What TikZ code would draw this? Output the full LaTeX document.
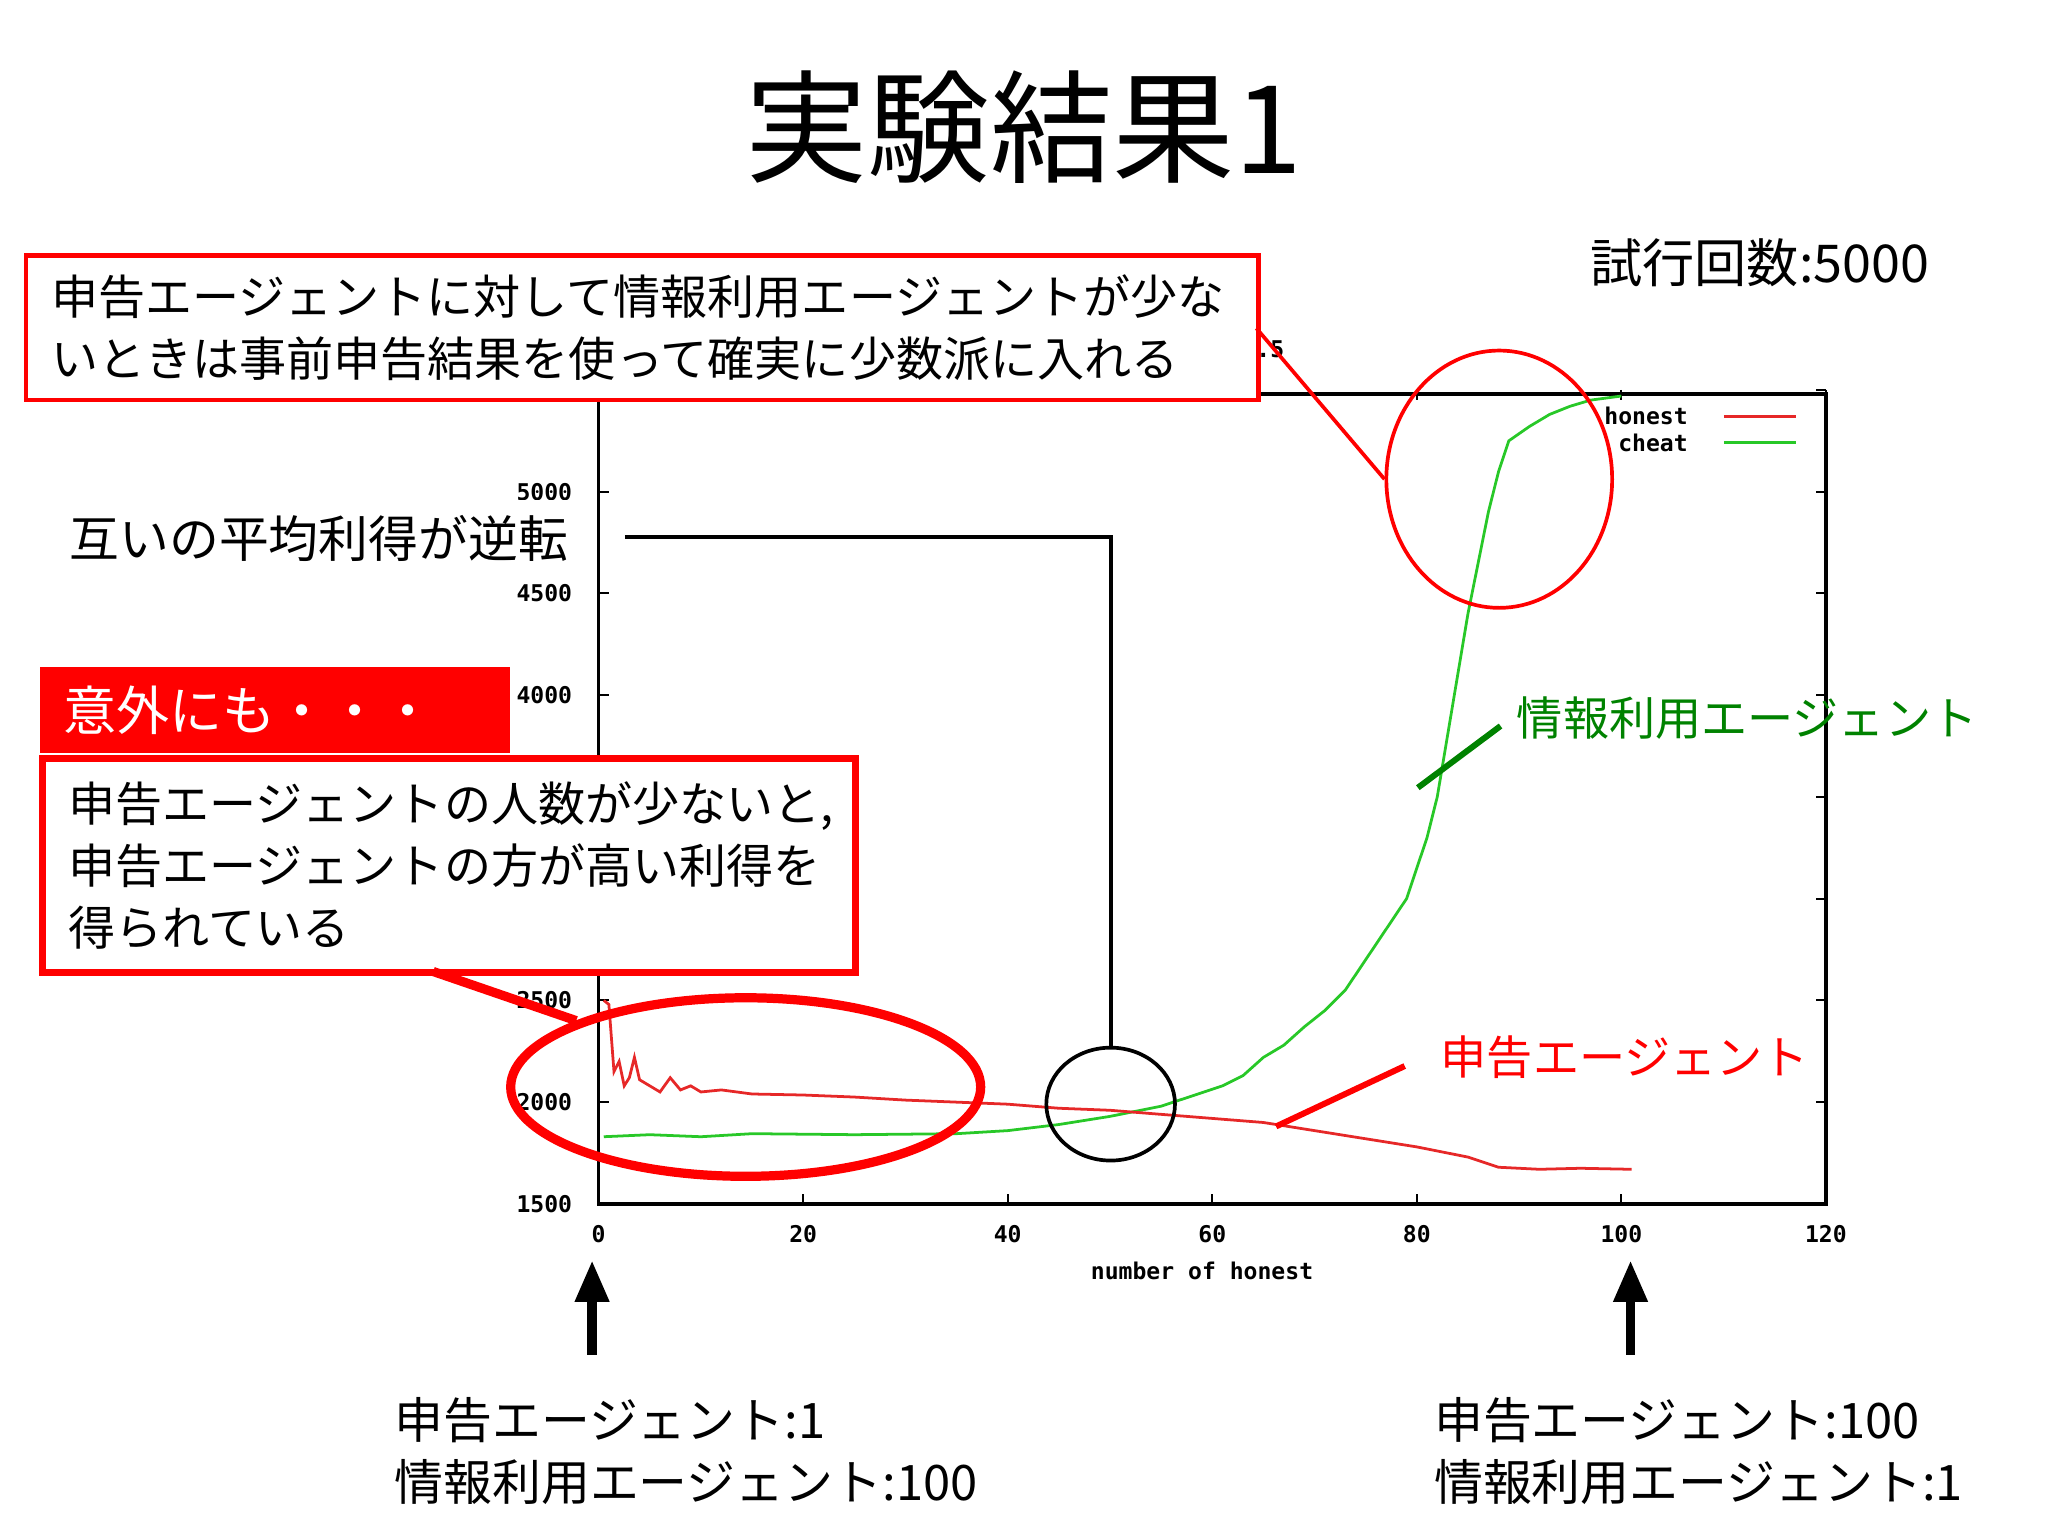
\documentclass[tikz,border=0pt]{standalone}
\usepackage{fontspec}
\usetikzlibrary{shapes.geometric,arrows.meta}
\setmainfont{Noto Sans CJK JP}
\newfontfamily\gp{DejaVu Sans Mono}
\definecolor{gred}{RGB}{230,40,40}
\definecolor{ggreen}{RGB}{40,200,40}
\definecolor{dgreen}{RGB}{0,130,0}
\tikzset{
 tick/.style={font=\gp\bfseries\fontsize{5}{6}\selectfont},
 body/.style={font=\fontsize{10.2}{13.5}\selectfont,align=left},
 redbox/.style={draw=red,line width=1.2pt,fill=white},
}
\begin{document}
\begin{tikzpicture}[x=0.1mm,y=-0.1mm]
\useasboundingbox (0,0) rectangle (1560,1170);
\node (title) at (780,97) {\fontsize{26.5}{30}\selectfont 実験結果1};
\node[anchor=east] (trials) at (1482,200) {\fontsize{11.3}{14}\selectfont 試行回数:5000};
% plot frame
\draw[line width=0.8pt] (456,300) rectangle (1391,917);
\begin{scope}[shift={(456,917)},xscale=7.79,yscale=-0.155]
 \foreach \v in {0,20,...,120}{
   \draw (\v,0) -- (\v,50); \draw (\v,4000) -- (\v,3950);
   \node[tick] at (\v,-150) {\v};}
 \foreach \w in {0,500,...,4000}{
   \draw (0,\w) -- (1,\w); \draw (120,\w) -- (119,\w);
   \pgfmathtruncatemacro\lab{\w+1500}
   \node[tick,anchor=east] at (-1,\w) {\lab};}
 \node[tick] at (59,-330) {number of honest};
 \node[tick] at (65,4200) {0.5};
 % data
 \draw[ggreen,line width=0.6pt] (0.5,330) -- (5,340) -- (10,330) -- (15,345) -- (25,340) -- (35,345) -- (40,360) -- (45,390) -- (50,430) -- (55,480) -- (58,530) -- (61,580) -- (63,630) -- (65,720) -- (67,780) -- (69,870) -- (71,950) -- (73,1050) -- (75,1200) -- (77,1350) -- (79,1500) -- (81,1800) -- (82,2000) -- (83,2300) -- (84,2600) -- (85,2900) -- (86,3150) -- (87,3400) -- (88,3600) -- (89,3750) -- (91,3820) -- (93,3880) -- (95,3920) -- (97,3950) -- (100,3970);
 \draw[gred,line width=0.6pt] (0.5,1000) -- (1,980) -- (1.5,650) -- (2,700) -- (2.5,580) -- (3,620) -- (3.5,720) -- (4,610) -- (5,580) -- (6,550) -- (7,620) -- (8,560) -- (9,580) -- (10,550) -- (12,560) -- (15,540) -- (20,535) -- (25,525) -- (30,510) -- (35,500) -- (40,490) -- (45,470) -- (50,460) -- (55,440) -- (60,420) -- (65,400) -- (70,360) -- (75,320) -- (80,280) -- (85,230) -- (88,180) -- (92,170) -- (96,175) -- (101,170);
\end{scope}
% legend
\node[tick,anchor=east] (lh) at (1298,317) {honest};
\node[tick,anchor=east] (lc) at (1298,337) {cheat};
\draw[gred,line width=0.6pt] (1313,317) -- (1368,317);
\draw[ggreen,line width=0.6pt] (1313,337) -- (1368,337);
% top annotation
\node[redbox,line width=0.9pt,body,minimum width=93.9mm,minimum height=11mm,anchor=north west,inner xsep=4pt,text width=90mm] (tb) at (18,193) {申告エージェントに対して情報利用エージェントが少な\\いときは事前申告結果を使って確実に少数派に入れる};
\node[draw=red,line width=0.8pt,ellipse,minimum width=17.2mm,minimum height=19.6mm] (e1) at (1142,365) {};
\coordinate (t1) at (957,250);
\draw[red,line width=0.8pt] (t1) -- (e1.west);
% reversal
\node[fill=white,font=\fontsize{10.8}{13}\selectfont,anchor=east] (rev) at (445,410) {互いの平均利得が逆転};
\node[draw,line width=0.8pt,ellipse,minimum width=9.8mm,minimum height=8.6mm] (c1) at (846,841) {};
\coordinate (r1) at (476,409); \coordinate (r2) at (846,409);
\draw[line width=0.8pt] (r1) -- (r2) -- (c1.north);
% surprisingly
\node[fill=red,text=white,minimum width=26mm,minimum height=6.6mm,anchor=north west,font=\fontsize{11.5}{14}\selectfont,inner xsep=5pt,align=left] (sur) at (30,507) {意外にも・・・\hspace{4mm}};
\node[redbox,line width=1.5pt,body,minimum width=61.9mm,minimum height=16.3mm,anchor=north west,inner xsep=5pt,text width=58mm] (mb) at (30,575) {申告エージェントの人数が少ないと,\\申告エージェントの方が高い利得を\\得られている};
\node[draw=red,line width=2pt,ellipse,minimum width=35.8mm,minimum height=13.6mm] (e2) at (568,828) {};
\coordinate (m1) at (330,740);
\draw[red,line width=2pt] (m1) -- (e2.north west);
% labels
\node[anchor=west,text=dgreen,font=\fontsize{10}{12}\selectfont] (gl) at (1143,547) {情報利用エージェント};
\coordinate (g1) at (1143,553); \coordinate (g2) at (1080,600);
\draw[dgreen,line width=1.3pt] (g1) -- (g2);
\node[anchor=west,text=red,font=\fontsize{10}{12}\selectfont] (rl) at (1085,805) {申告エージェント};
\coordinate (r4) at (1070,812); \coordinate (r3) at (972,858);
\draw[red,line width=1.3pt] (r4) -- (r3);
% arrows
\coordinate (a1) at (451,1032); \coordinate (a2) at (451,960);
\coordinate (b1) at (1242,1032); \coordinate (b2) at (1242,960);
\draw[-{Triangle[length=9pt,width=7pt]},line width=2pt] (a1) -- (a2);
\draw[-{Triangle[length=9pt,width=7pt]},line width=2pt] (b1) -- (b2);
\node[body,font=\fontsize{10.6}{13.5}\selectfont,anchor=north west] (bl) at (288,1052) {申告エージェント:1\\情報利用エージェント:100};
\node[body,font=\fontsize{10.6}{13.5}\selectfont,anchor=north west] (br) at (1080,1052) {申告エージェント:100\\情報利用エージェント:1};
\end{tikzpicture}
\end{document}
